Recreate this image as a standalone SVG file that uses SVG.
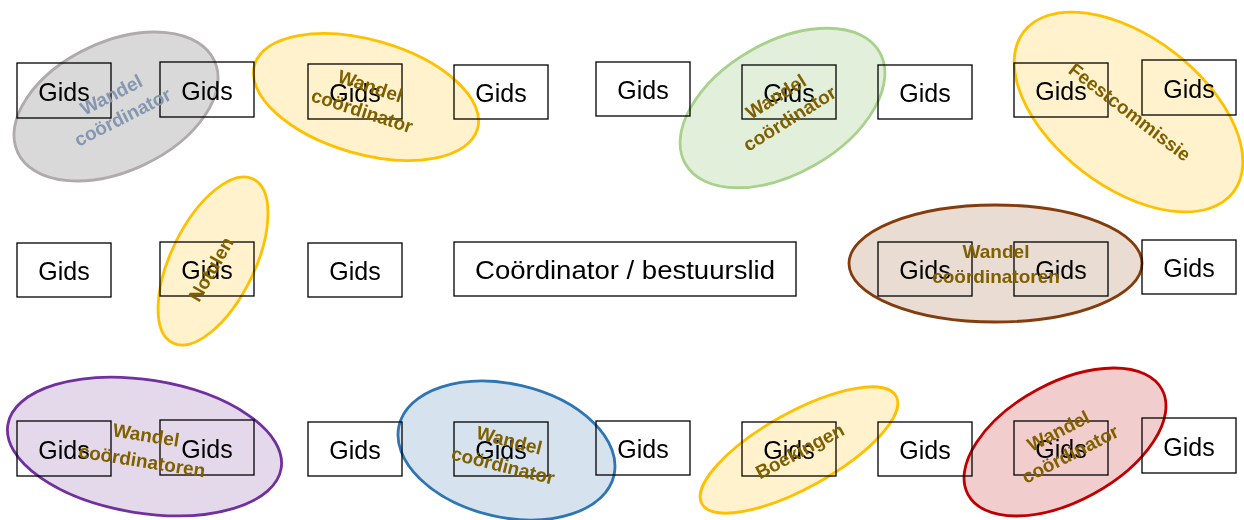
<svg xmlns="http://www.w3.org/2000/svg" width="1244" height="520" viewBox="0 0 1244 520">
<style>
.box rect{fill:#FFFFFF;stroke:#000000;stroke-width:1.3}
.box text{font-family:"Liberation Sans",Arial,sans-serif;font-size:25px;fill:#000000;text-anchor:middle}
.grp ellipse{mix-blend-mode:multiply;stroke-width:2.8}
.lbl{font-family:"Liberation Sans",Arial,sans-serif;font-size:19px;font-weight:bold;fill:#7F6000;text-anchor:middle}
</style>
<rect x="0" y="0" width="1244" height="520" fill="#FFFFFF"/>
<g id="boxes">
<g id="gids-r1-1" class="box"><rect x="17" y="63" width="94" height="55"/><text x="64" y="100.5">Gids</text></g>
<g id="gids-r1-2" class="box"><rect x="160" y="62" width="94" height="55"/><text x="207" y="99.5">Gids</text></g>
<g id="gids-r1-3" class="box"><rect x="308" y="64" width="94" height="55"/><text x="355" y="101.5">Gids</text></g>
<g id="gids-r1-4" class="box"><rect x="454" y="65" width="94" height="54"/><text x="501" y="102">Gids</text></g>
<g id="gids-r1-5" class="box"><rect x="596" y="62" width="94" height="54"/><text x="643" y="99">Gids</text></g>
<g id="gids-r1-6" class="box"><rect x="742" y="65" width="94" height="54"/><text x="789" y="102">Gids</text></g>
<g id="gids-r1-7" class="box"><rect x="878" y="65" width="94" height="54"/><text x="925" y="102">Gids</text></g>
<g id="gids-r1-8" class="box"><rect x="1014" y="63" width="94" height="54"/><text x="1061" y="100">Gids</text></g>
<g id="gids-r1-9" class="box"><rect x="1142" y="60" width="94" height="55"/><text x="1189" y="97.5">Gids</text></g>
<g id="gids-r2-1" class="box"><rect x="17" y="243" width="94" height="54"/><text x="64" y="280">Gids</text></g>
<g id="gids-r2-2" class="box"><rect x="160" y="242" width="94" height="54"/><text x="207" y="279">Gids</text></g>
<g id="gids-r2-3" class="box"><rect x="308" y="243" width="94" height="54"/><text x="355" y="280">Gids</text></g>
<g id="coordinator" class="box"><rect x="454" y="242" width="342" height="54"/><text x="625" y="279" textLength="300" lengthAdjust="spacingAndGlyphs">Coördinator / bestuurslid</text></g>
<g id="gids-r2-4" class="box"><rect x="878" y="242" width="94" height="54"/><text x="925" y="279">Gids</text></g>
<g id="gids-r2-5" class="box"><rect x="1014" y="242" width="94" height="54"/><text x="1061" y="279">Gids</text></g>
<g id="gids-r2-6" class="box"><rect x="1142" y="240" width="94" height="54"/><text x="1189" y="277">Gids</text></g>
<g id="gids-r3-1" class="box"><rect x="17" y="421" width="94" height="55"/><text x="64" y="458.5">Gids</text></g>
<g id="gids-r3-2" class="box"><rect x="160" y="420" width="94" height="55"/><text x="207" y="457.5">Gids</text></g>
<g id="gids-r3-3" class="box"><rect x="308" y="422" width="94" height="54"/><text x="355" y="459">Gids</text></g>
<g id="gids-r3-4" class="box"><rect x="454" y="422" width="94" height="54"/><text x="501" y="459">Gids</text></g>
<g id="gids-r3-5" class="box"><rect x="596" y="421" width="94" height="54"/><text x="643" y="458">Gids</text></g>
<g id="gids-r3-6" class="box"><rect x="742" y="422" width="94" height="54"/><text x="789" y="459">Gids</text></g>
<g id="gids-r3-7" class="box"><rect x="878" y="422" width="94" height="54"/><text x="925" y="459">Gids</text></g>
<g id="gids-r3-8" class="box"><rect x="1014" y="421" width="94" height="54"/><text x="1061" y="458">Gids</text></g>
<g id="gids-r3-9" class="box"><rect x="1142" y="418" width="94" height="55"/><text x="1189" y="455.5">Gids</text></g>
</g>
<g id="connectors"></g>
<g id="groups">
<g id="grp-gray" class="grp">
<ellipse cx="116" cy="106.5" rx="108.5" ry="64.7" transform="rotate(-25 116 106.5)" fill="#D9D9D9" stroke="#AFABAB"/>
<g transform="translate(117 106) rotate(-27)"><text class="lbl" style="fill:#8497B0" x="0" y="-6">Wandel</text><text class="lbl" style="fill:#8497B0" x="0" y="19">coördinator</text></g>
</g>
<g id="grp-orange-top" class="grp">
<ellipse cx="366" cy="97" rx="116" ry="57" transform="rotate(16 366 97)" fill="#FFF2CC" stroke="#FFC000"/>
<g transform="translate(366 99) rotate(18)"><text class="lbl" x="0" y="-7">Wandel</text><text class="lbl" x="0" y="19">coördinator</text></g>
</g>
<g id="grp-green" class="grp">
<ellipse cx="782.5" cy="108" rx="112" ry="65.6" transform="rotate(-30 782.5 108)" fill="#E2EFDA" stroke="#A9D18E"/>
<g transform="translate(783 108) rotate(-32)"><text class="lbl" x="0" y="-7">Wandel</text><text class="lbl" x="0" y="19">coördinator</text></g>
</g>
<g id="grp-feest" class="grp">
<ellipse cx="1128.5" cy="112" rx="132" ry="75" transform="rotate(37.4 1128.5 112)" fill="#FFF2CC" stroke="#FFC000"/>
<g transform="translate(1129.5 112.5) rotate(37.5)"><text class="lbl" x="0" y="6">Feestcommissie</text></g>
</g>
<g id="grp-notulen" class="grp">
<ellipse cx="213" cy="261" rx="91.3" ry="41.8" transform="rotate(-63.9 213 261)" fill="#FFF2CC" stroke="#FFC000"/>
<g transform="translate(211.5 269.5) rotate(-60)"><text class="lbl" x="0" y="6">Notulen</text></g>
</g>
<g id="grp-brown" class="grp">
<ellipse cx="995.5" cy="263.5" rx="146.5" ry="58.5" fill="#E8DCD3" stroke="#843C0C"/>
<text class="lbl" x="996" y="258">Wandel</text><text class="lbl" x="996" y="283">coördinatoren</text>
</g>
<g id="grp-purple" class="grp">
<ellipse cx="144.5" cy="446.5" rx="138.4" ry="66.6" transform="rotate(9 144.5 446.5)" fill="#E4D8EB" stroke="#7030A0"/>
<g transform="translate(144 448.5) rotate(9)"><text class="lbl" x="0" y="-7">Wandel</text><text class="lbl" x="0" y="19">coördinatoren</text></g>
</g>
<g id="grp-blue" class="grp">
<ellipse cx="506.5" cy="450.5" rx="110.3" ry="66.6" transform="rotate(13 506.5 450.5)" fill="#D6E3EF" stroke="#2E75B6"/>
<g transform="translate(506 453.5) rotate(14)"><text class="lbl" x="0" y="-7">Wandel</text><text class="lbl" x="0" y="19">coördinator</text></g>
</g>
<g id="grp-boekingen" class="grp">
<ellipse cx="799" cy="450" rx="111" ry="37.7" transform="rotate(-29 799 450)" fill="#FFF2CC" stroke="#FFC000"/>
<g transform="translate(800 451.5) rotate(-28)"><text class="lbl" x="0" y="6">Boekingen</text></g>
</g>
<g id="grp-red" class="grp">
<ellipse cx="1065" cy="442" rx="110.3" ry="59.2" transform="rotate(-28.5 1065 442)" fill="#F2CDCD" stroke="#C00000"/>
<g transform="translate(1064.5 443) rotate(-27)"><text class="lbl" x="0" y="-7">Wandel</text><text class="lbl" x="0" y="19">coördinator</text></g>
</g>
</g>
</svg>
